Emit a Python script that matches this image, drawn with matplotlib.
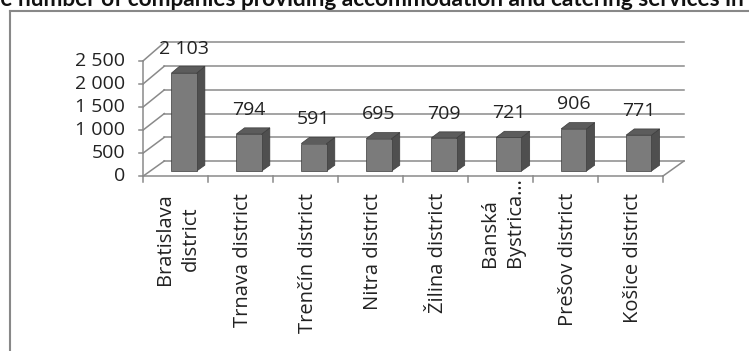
import numpy as np
import matplotlib
matplotlib.use("Agg")
import matplotlib.pyplot as plt
from matplotlib.patches import Polygon
from matplotlib.lines import Line2D

# data
districts = ["Bratislava\ndistrict", "Trnava district", "Trenčín district", "Nitra district",
             "Žilina district", "Banská\nBystrica…", "Prešov district", "Košice district"]
companies = [2103, 794, 591, 695, 709, 721, 906, 771]
y_ticks = [0, 500, 1000, 1500, 2000, 2500]
title = "The number of companies providing accommodation and catering services in the"

W, H, DPI = 749, 351, 100
plt.rcParams['font.family'] = ['Open Sans', 'DejaVu Sans']

fig = plt.figure(figsize=(W / DPI, H / DPI), dpi=DPI)
fig.patch.set_facecolor("white")

# front plane of the 3D box in pixels
x0_px, x1_px = 143.3, 663.0
y0_px, y1_px = 176.0, 60.7
ax = fig.add_axes([x0_px / W, 1 - y0_px / H, (x1_px - x0_px) / W, (y0_px - y1_px) / H])
ax.set_xlim(-0.5, 7.5)
ax.set_ylim(0, 2500)
ax.axis("off")

px_x = 8 / (x1_px - x0_px)          # category units per pixel
px_y = 2500 / (y0_px - y1_px)       # value units per pixel

DX = 21 * px_x                      # depth shift to the back wall
DY = 15 * px_y
PERSP = 0.028


def proj(x, d, v):
    return x + DX * d, v * (1 + PERSP * d) + DY * d


grid_c = "#8a8a8a"
lw = 1.1

# back wall gridlines and left wall diagonals
for v in y_ticks:
    xa, ya = proj(-0.5, 1, v)
    xb, yb = proj(7.5, 1, v)
    ax.plot([xa, xb], [ya, yb], color=grid_c, lw=lw, clip_on=False, zorder=1)
    xf, yf = proj(-0.5, 0, v)
    ax.plot([xf, xa], [yf, ya], color=grid_c, lw=lw, clip_on=False, zorder=1)
    # value tick
    ax.plot([xf - 4 * px_x, xf], [yf, yf], color=grid_c, lw=lw, clip_on=False, zorder=1)
    ax.text(xf - 18 * px_x, yf, f"{v:,}".replace(",", " "), ha="right", va="center",
            fontsize=14, color="#222222")

# front axis line, floor front edge and right floor edge
ax.plot([-0.5, -0.5], [0, 2500], color=grid_c, lw=lw, clip_on=False, zorder=1)
ax.plot([-0.5, 7.5], [0, 0], color=grid_c, lw=lw, clip_on=False, zorder=1)
xr, yr = proj(7.5, 1, 0)
ax.plot([7.5, xr], [0, yr], color=grid_c, lw=lw, clip_on=False, zorder=1)
for b in np.arange(-0.5, 8.0, 1.0):
    ax.plot([b, b], [0, -6 * px_y], color=grid_c, lw=lw, clip_on=False, zorder=1)

# bars
d0, d1 = 0.33, 0.72
half = 0.195
front_c, side_c, top_c = "#7b7b7b", "#4f4f4f", "#5c5c5c"
for i, v in enumerate(companies):
    xl, xr_ = i + 0.02 - half, i + 0.02 + half
    front = [proj(xl, d0, 0), proj(xr_, d0, 0), proj(xr_, d0, v), proj(xl, d0, v)]
    side = [proj(xr_, d0, 0), proj(xr_, d1, 0), proj(xr_, d1, v), proj(xr_, d0, v)]
    top = [proj(xl, d0, v), proj(xr_, d0, v), proj(xr_, d1, v), proj(xl, d1, v)]
    for pts, c in [(side, side_c), (top, top_c), (front, front_c)]:
        ax.add_patch(Polygon(pts, closed=True, facecolor=c, edgecolor="#3c3c3c",
                             lw=0.5, clip_on=False, zorder=3))
    cx, cy = proj(i + 0.02, d0, v)
    ax.annotate(f"{v:,}".replace(",", " "), xy=(cx, cy), xytext=(0, 24.5 * 72 / DPI),
                textcoords="offset points", ha="center", va="center",
                fontsize=14, color="#222222", zorder=4)

# category labels
for i, name in enumerate(districts):
    if name.endswith("…"):
        ax.annotate(name, xy=(i, 0), xytext=(2 * 72 / DPI, -1 * 72 / DPI),
                    textcoords="offset points", rotation=90, ha="center", va="top",
                    multialignment="left", linespacing=1.35, fontsize=14.5, color="#222222")
    else:
        ax.annotate(name, xy=(i, 0), xytext=(2 * 72 / DPI, -17 * 72 / DPI),
                    textcoords="offset points", rotation=90, ha="center", va="top",
                    multialignment="center", linespacing=1.35, fontsize=14.5, color="#222222")

# outer chart frame (runs off the right and bottom edges)
frame_c = "#888888"
fig.add_artist(Line2D([9.5 / W, 9.5 / W], [1 - 11 / H, 0], color=frame_c, lw=1.5,
                      transform=fig.transFigure))
fig.add_artist(Line2D([9.5 / W, 1], [1 - 11 / H, 1 - 11 / H], color=frame_c, lw=1.5,
                      transform=fig.transFigure))

# title, cut by the top and side edges as in the source picture
title_font = dict(fontweight="bold", family=["Lato", "DejaVu Sans"])
renderer = fig.canvas.get_renderer()


def text_width(s, size):
    t = fig.text(0, 0, s, fontsize=size, **title_font)
    w = t.get_window_extent(renderer).width
    t.remove()
    return w


visible = title[:title.index(" in t") + 4]
size = 10 * (W + 3) / (text_width(visible, 10) - text_width("Th", 10))
shift = text_width("Th", size)
fig.text(-shift / W, 1 - 5.5 / H, title, fontsize=size, color="#111111",
         ha="left", va="baseline", **title_font)

fig.savefig("out.png", dpi=DPI)
